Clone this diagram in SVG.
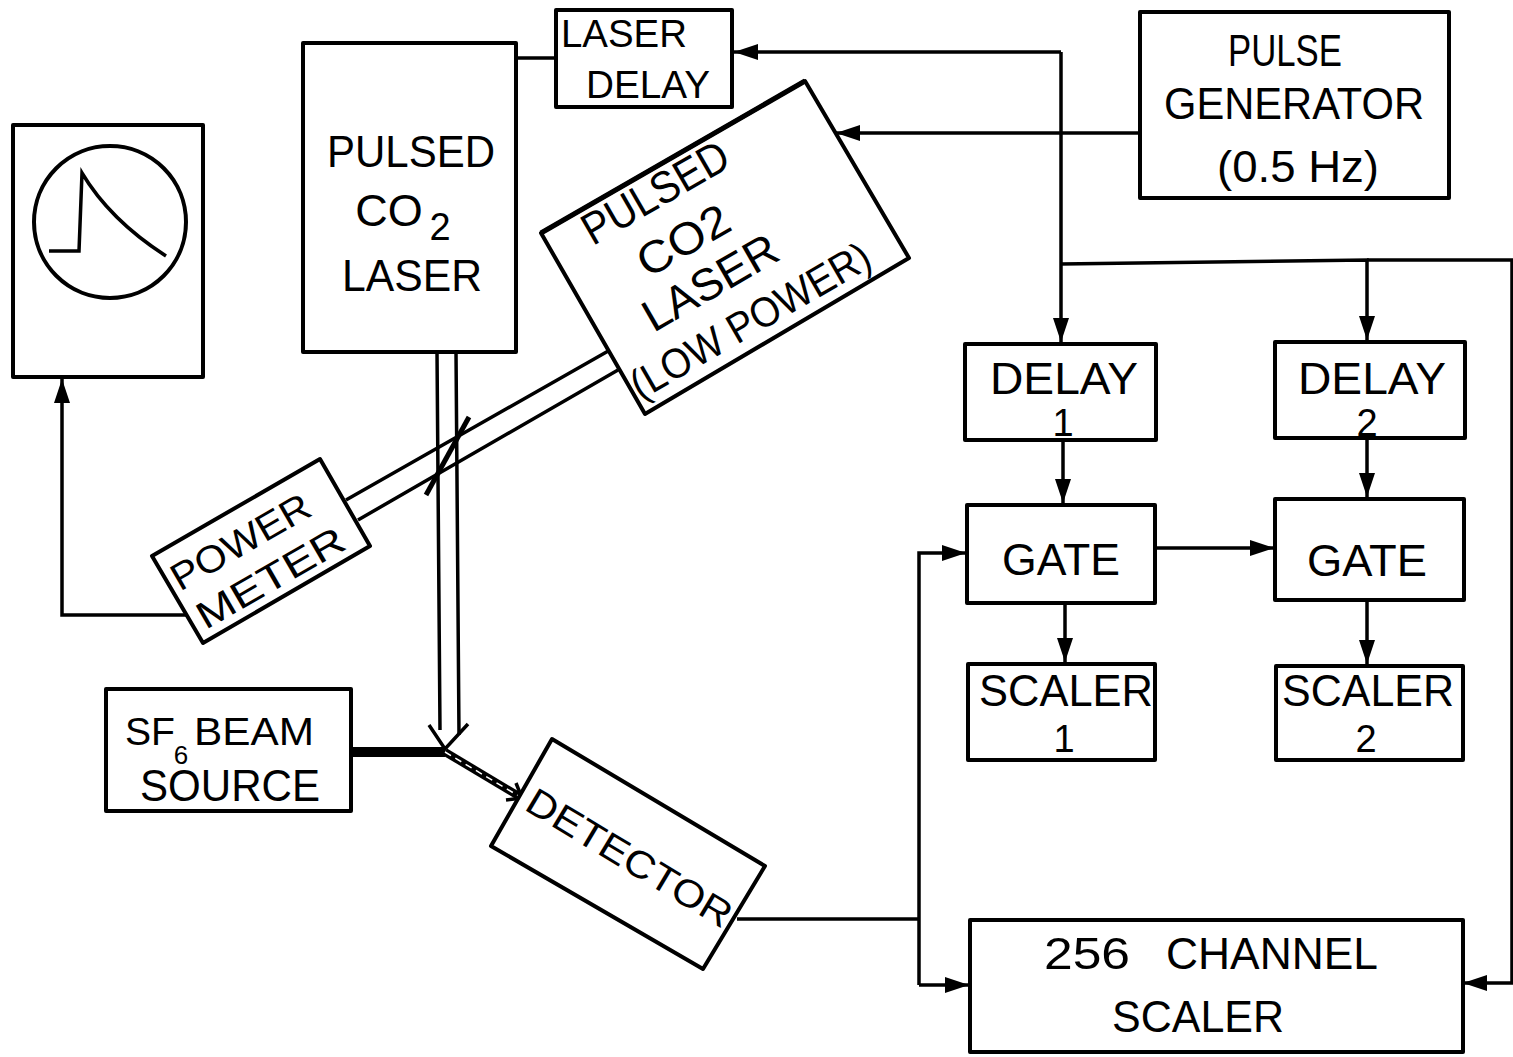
<svg xmlns="http://www.w3.org/2000/svg" width="1513" height="1057" viewBox="0 0 1513 1057">
<style>
.b{fill:#fff;stroke:#000;stroke-width:4;stroke-linejoin:round}
.l{fill:none;stroke:#000;stroke-width:3.5}
text{font-family:"Liberation Sans",Arial,sans-serif;font-size:45px;fill:#000;text-anchor:middle}
.s{font-size:38px}
.m{font-size:42px}
.n{font-size:26px}
</style>
<defs><marker id="a" markerUnits="userSpaceOnUse" markerWidth="26" markerHeight="18" refX="24" refY="9" orient="auto"><path d="M0 1L24 9L0 17Z" fill="#000"/></marker></defs>
<rect width="1513" height="1057" fill="#fff"/>
<g id="connectors">
<path class="l" d="M516 58H556"/>
<path class="l" d="M1061 52H734" marker-end="url(#a)"/>
<path class="l" d="M1061 52V342" marker-end="url(#a)"/>
<path class="l" d="M1140 133H836" marker-end="url(#a)"/>
<path class="l" d="M1061 264L1367 260V340" marker-end="url(#a)"/>
<path class="l" d="M1367 260H1512V983H1463" marker-end="url(#a)"/>
<path class="l" d="M1063 440V503" marker-end="url(#a)"/>
<path class="l" d="M1367 438V497" marker-end="url(#a)"/>
<path class="l" d="M1065 603V662" marker-end="url(#a)"/>
<path class="l" d="M1367 600V664" marker-end="url(#a)"/>
<path class="l" d="M1155 548H1274" marker-end="url(#a)"/>
<path class="l" d="M737 919H919"/>
<path class="l" d="M919 985V553H966" marker-end="url(#a)"/>
<path class="l" d="M919 985H969" marker-end="url(#a)"/>
<path class="l" d="M192 615H62V379" marker-end="url(#a)"/>
<path class="l" d="M437 352L440 730M456 352L459 735"/>
<path class="l" d="M346 500L610 350M358 520L618 370"/>
<path class="l" d="M469 417L426 495" style="stroke-width:5"/>
<path class="l" d="M429 725L445 749L468 724"/>
<path d="M351 752H445" fill="none" stroke="#000" stroke-width="10"/>
<path d="M445 752L522 798" fill="none" stroke="#000" stroke-width="8"/>
<path d="M445 752L522 798" fill="none" stroke="#fff" stroke-width="1.5" stroke-dasharray="7 5"/>
<path class="l" d="M506 800L522 798L516 783"/>
</g>
<g id="laser-delay"><rect class="b" x="556" y="10" width="176" height="97"/><text x="624" y="47" class="s" textLength="126" lengthAdjust="spacingAndGlyphs">LASER</text><text x="648" y="98" class="s" textLength="124" lengthAdjust="spacingAndGlyphs">DELAY</text></g>
<g id="pulsed-laser"><rect class="b" x="303" y="43" width="213" height="309"/><text x="411" y="167" textLength="168" lengthAdjust="spacingAndGlyphs">PULSED</text><text x="389" y="226">CO</text><text x="440" y="240" class="s">2</text><text x="412" y="291" textLength="140" lengthAdjust="spacingAndGlyphs">LASER</text></g>
<g id="oscilloscope"><rect class="b" x="13" y="125" width="190" height="252"/><circle cx="110" cy="222" r="76" class="b"/><path class="l" d="M49 251H79L82 173Q110 220 166 256"/></g>
<g id="pulse-generator"><rect class="b" x="1140" y="12" width="309" height="186"/><text x="1285" y="66" textLength="114" lengthAdjust="spacingAndGlyphs">PULSE</text><text x="1294" y="119" textLength="260" lengthAdjust="spacingAndGlyphs">GENERATOR</text><text x="1298" y="182" textLength="162" lengthAdjust="spacingAndGlyphs">(0.5 Hz)</text></g>
<g id="low-power-laser"><polygon class="b" points="541,233 805,81 909,258 645,414"/>
<path d="M541 233L805 81" stroke="#000" stroke-width="5" fill="none"/>
<text transform="translate(655 192) rotate(-30)" y="16" textLength="162" lengthAdjust="spacingAndGlyphs">PULSED</text>
<text transform="translate(683 240) rotate(-30)" y="16" textLength="100" lengthAdjust="spacingAndGlyphs">CO2</text>
<text transform="translate(710 282) rotate(-30)" y="16" textLength="149" lengthAdjust="spacingAndGlyphs">LASER</text>
<text transform="translate(750 320) rotate(-30)" y="15" class="m" textLength="270" lengthAdjust="spacingAndGlyphs">(LOW  POWER)</text></g>
<g id="power-meter"><polygon class="b" points="152,556 320,459 370,546 203,643"/>
<text transform="translate(240 541) rotate(-30)" y="14" class="s" textLength="155" lengthAdjust="spacingAndGlyphs">POWER</text>
<text transform="translate(270 577) rotate(-30)" y="14" class="s" textLength="165" lengthAdjust="spacingAndGlyphs">METER</text></g>
<g id="sf6-source"><rect class="b" x="106" y="689" width="245" height="122"/><text x="150" y="745" class="s" textLength="50" lengthAdjust="spacingAndGlyphs">SF</text><text x="181" y="764" class="n">6</text><text x="254" y="745" class="s" textLength="120" lengthAdjust="spacingAndGlyphs">BEAM</text><text x="230" y="801" textLength="180" lengthAdjust="spacingAndGlyphs">SOURCE</text></g>
<g id="detector"><polygon class="b" points="491,846 552,739 765,866 703,969"/><text transform="translate(630 857) rotate(31)" y="14" class="s" textLength="233" lengthAdjust="spacingAndGlyphs">DETECTOR</text></g>
<g id="delay-1"><rect class="b" x="965" y="344" width="191" height="96"/><text x="1064" y="394" textLength="148" lengthAdjust="spacingAndGlyphs">DELAY</text><text x="1063" y="436" class="s">1</text></g>
<g id="delay-2"><rect class="b" x="1275" y="342" width="190" height="96"/><text x="1372" y="394" textLength="148" lengthAdjust="spacingAndGlyphs">DELAY</text><text x="1367" y="436" class="s">2</text></g>
<g id="gate-1"><rect class="b" x="967" y="505" width="188" height="98"/><text x="1061" y="575" textLength="118" lengthAdjust="spacingAndGlyphs">GATE</text></g>
<g id="gate-2"><rect class="b" x="1275" y="499" width="189" height="101"/><text x="1367" y="576" textLength="120" lengthAdjust="spacingAndGlyphs">GATE</text></g>
<g id="scaler-1"><rect class="b" x="968" y="664" width="187" height="96"/><text x="1066" y="706" textLength="174" lengthAdjust="spacingAndGlyphs">SCALER</text><text x="1064" y="752" class="s">1</text></g>
<g id="scaler-2"><rect class="b" x="1276" y="666" width="187" height="94"/><text x="1368" y="706" textLength="172" lengthAdjust="spacingAndGlyphs">SCALER</text><text x="1366" y="752" class="s">2</text></g>
<g id="channel-scaler"><rect class="b" x="970" y="920" width="493" height="132"/><text x="1087" y="969" textLength="86" lengthAdjust="spacingAndGlyphs">256</text><text x="1272" y="969" textLength="212" lengthAdjust="spacingAndGlyphs">CHANNEL</text><text x="1198" y="1032" textLength="172" lengthAdjust="spacingAndGlyphs">SCALER</text></g>
</svg>
